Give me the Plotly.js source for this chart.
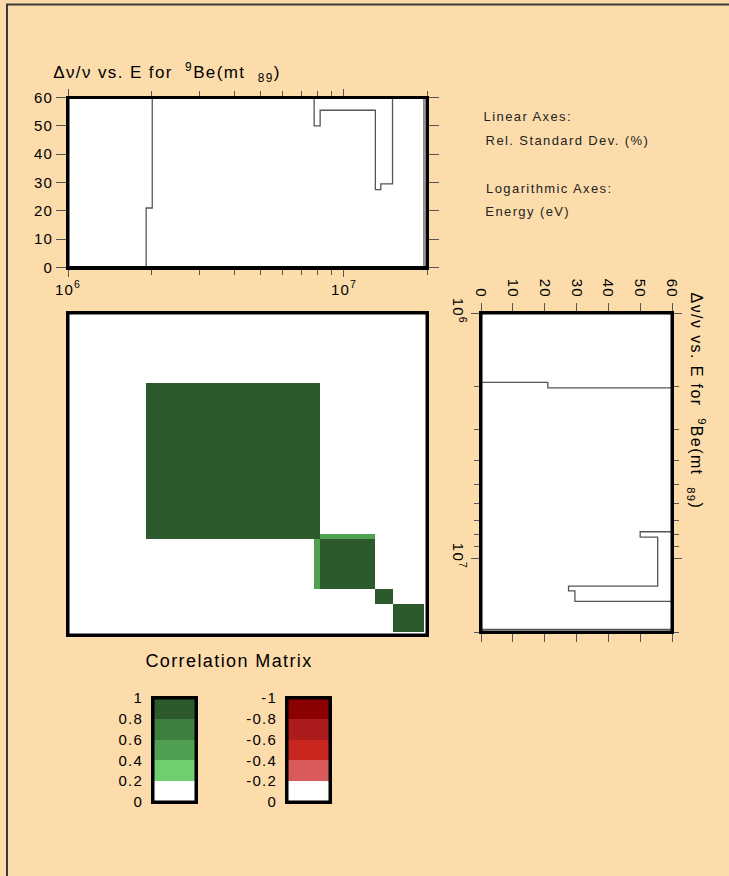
<!DOCTYPE html>
<html>
<head>
<meta charset="utf-8">
<script src="https://cdn.plot.ly/plotly-3.0.1.min.js"></script>
<style>
html,body{margin:0;padding:0;background:#fddcab;}
#chart{width:729px;height:876px;}
#chart svg text{letter-spacing:1.2px;}
#chart svg text.annotation-text{letter-spacing:1.4px;}
</style>
</head>
<body>
<div id="chart"></div>
<script>
// ---- data ----
// energy bin edges (eV)
const energyEdges = [1e6, 1.92e6, 2.02e6, 7.8e6, 8.2e6, 1.3e7, 1.36e7, 1.5e7, 1.95e7, 2e7];
// relative standard deviation (%) per energy bin (100 = off scale, above 60)
const relStdDev = [0, 21, 100, 50, 55.5, 27.5, 29.5, 100, 0];
// correlation matrix per bin pair (row = y bin, col = x bin)
const corr = [
  [0, 0, 0, 0,   0,   0, 0, 0, 0],
  [0, 1, 1, 1,   0,   0, 0, 0, 0],
  [0, 1, 1, 1,   0,   0, 0, 0, 0],
  [0, 1, 1, 1,   0.5, 0, 0, 0, 0],
  [0, 0, 0, 0.5, 1,   0, 0, 0, 0],
  [0, 0, 0, 0,   0,   1, 1, 0, 0],
  [0, 0, 0, 0,   0,   1, 1, 0, 0],
  [0, 0, 0, 0,   0,   0, 0, 1, 0],
  [0, 0, 0, 0,   0,   0, 0, 0, 0]
];
const sdTicks = [0, 10, 20, 30, 40, 50, 60];
const majorE = [1e6, 1e7];
const majorELabels = ['10<sup>6</sup>', '10<sup>7</sup>'];
const minorE = [2e6, 3e6, 4e6, 5e6, 6e6, 7e6, 8e6, 9e6, 2e7];
// colour legend
const legendEdges = [0, 0.2, 0.4, 0.6, 0.8, 1];
const greenBands = [0.1, 0.3, 0.5, 0.7, 0.9];
const greenLabels = ['0', '0.2', '0.4', '0.6', '0.8', '1'];
const redEdges = [0, -0.2, -0.4, -0.6, -0.8, -1];
const redBands = [-0.1, -0.3, -0.5, -0.7, -0.9];
const redLabels = ['0', '-0.2', '-0.4', '-0.6', '-0.8', '-1'];
const bandColors = ['#8b0000', '#ad1c1c', '#c9261f', '#d85a5a', '#ffffff', '#ffffff', '#6fcf6f', '#51a051', '#3e7e3e', '#2d5a2d'];

// ---- layout helpers ----
const W = 729, H = 876;
const px = v => v / W;
const py = v => 1 - v / H;
const FONT = 'Liberation Sans, Arial, Helvetica, sans-serif';

const colorscale = [];
bandColors.forEach((c, i) => { colorscale.push([i / 10, c]); colorscale.push([(i + 1) / 10, c]); });

const stepY = relStdDev.concat([relStdDev[relStdDev.length - 1]]);
const logMax = Math.log10(energyEdges[energyEdges.length - 1]);
const logMin = Math.log10(energyEdges[0]);

const frameAxis = {
  showline: true, linewidth: 2, linecolor: '#000', mirror: 'ticks',
  showgrid: false, zeroline: false, fixedrange: true,
  tickcolor: '#555', tickwidth: 1,
  tickfont: {family: FONT, size: 15, color: '#000'}
};

const traces = [
  {x: energyEdges, y: stepY, type: 'scatter', mode: 'lines', line: {shape: 'hv', color: '#555', width: 1.3},
   xaxis: 'x', yaxis: 'y', hoverinfo: 'skip'},
  {x: energyEdges, y: energyEdges, z: corr, type: 'heatmap', colorscale: colorscale, zmin: -1, zmax: 1,
   showscale: false, xaxis: 'x2', yaxis: 'y2', hoverinfo: 'skip'},
  {x: stepY, y: energyEdges, type: 'scatter', mode: 'lines', line: {shape: 'vh', color: '#555', width: 1.3},
   xaxis: 'x3', yaxis: 'y3', hoverinfo: 'skip'},
  {x: [0, 1], y: legendEdges, z: greenBands.map(v => [v]), type: 'heatmap', colorscale: colorscale, zmin: -1, zmax: 1,
   showscale: false, xaxis: 'x4', yaxis: 'y4', hoverinfo: 'skip'},
  {x: [0, 1], y: redEdges, z: redBands.map(v => [v]), type: 'heatmap', colorscale: colorscale, zmin: -1, zmax: 1,
   showscale: false, xaxis: 'x5', yaxis: 'y5', hoverinfo: 'skip'}
];

const frameShape = (xr, yr) => ({type: 'rect', xref: xr + ' domain', yref: yr + ' domain', x0: 0, x1: 1, y0: 0, y1: 1,
  layer: 'above', line: {color: '#000', width: 3}, fillcolor: 'rgba(0,0,0,0)'});

const note = (text, cx, cy, size, color) => ({xref: 'paper', yref: 'paper', x: px(cx), y: py(cy),
  xanchor: 'center', yanchor: 'middle', showarrow: false, text: text, font: {family: FONT, size: size, color: color}});

const titleText = 'Δν/ν vs. E for  <sup>9</sup>Be(mt  <sub>89</sub>)';
const sideTitle = note(titleText, 697, 400.5, 16, '#000');
sideTitle.textangle = 90;

const layout = {
  width: W, height: H, margin: {l: 0, r: 0, t: 0, b: 0},
  paper_bgcolor: '#fddcab', plot_bgcolor: '#ffffff', showlegend: false,
  font: {family: FONT, color: '#000'},
  // top: standard deviation vs energy
  xaxis: Object.assign({}, frameAxis, {
    domain: [px(68), px(427)], anchor: 'y', type: 'log', range: [logMin, logMax],
    tickvals: majorE, ticktext: majorELabels, ticks: 'outside', ticklen: 7,
    minor: {tickvals: minorE, ticks: 'outside', ticklen: 5, tickcolor: '#555', tickwidth: 1, showgrid: false}
  }),
  yaxis: Object.assign({}, frameAxis, {
    domain: [py(267.5), py(97.5)], anchor: 'x', range: [0, 60], tickvals: sdTicks,
    ticks: 'outside', ticklen: 10
  }),
  // correlation matrix
  xaxis2: {domain: [px(68), px(427)], anchor: 'y2', type: 'log', range: [logMin, logMax],
    showline: true, linewidth: 2, linecolor: '#000', mirror: true, showticklabels: false, ticks: '',
    showgrid: false, zeroline: false, fixedrange: true},
  yaxis2: {domain: [py(635), py(313)], anchor: 'x2', type: 'log', range: [logMax, logMin],
    showline: true, linewidth: 2, linecolor: '#000', mirror: true, showticklabels: false, ticks: '',
    showgrid: false, zeroline: false, fixedrange: true},
  // right: energy vs standard deviation
  xaxis3: Object.assign({}, frameAxis, {
    domain: [px(481), px(672)], anchor: 'y3', side: 'top', range: [0, 60], tickvals: sdTicks,
    ticks: 'outside', ticklen: 8, tickangle: 90
  }),
  yaxis3: Object.assign({}, frameAxis, {
    domain: [py(632), py(313)], anchor: 'x3', type: 'log', range: [logMax, logMin],
    tickvals: majorE, ticktext: majorELabels, ticks: 'outside', ticklen: 8, tickangle: 90,
    minor: {tickvals: minorE, ticks: 'outside', ticklen: 5, tickcolor: '#555', tickwidth: 1, showgrid: false}
  }),
  // colour legends
  xaxis4: {domain: [px(153), px(196)], anchor: 'y4', range: [0, 1], showline: true, linewidth: 2, linecolor: '#000',
    mirror: true, showticklabels: false, ticks: '', showgrid: false, zeroline: false, fixedrange: true},
  yaxis4: {domain: [py(802), py(698)], anchor: 'x4', range: [0, 1], showline: true, linewidth: 2, linecolor: '#000',
    mirror: true, tickvals: legendEdges, ticktext: greenLabels, ticks: 'outside', ticklen: 5, tickcolor: 'rgba(0,0,0,0)',
    tickfont: {family: FONT, size: 15, color: '#000'}, showgrid: false, zeroline: false, fixedrange: true},
  xaxis5: {domain: [px(287), px(330)], anchor: 'y5', range: [0, 1], showline: true, linewidth: 2, linecolor: '#000',
    mirror: true, showticklabels: false, ticks: '', showgrid: false, zeroline: false, fixedrange: true},
  yaxis5: {domain: [py(802), py(698)], anchor: 'x5', range: [0, -1], showline: true, linewidth: 2, linecolor: '#000',
    mirror: true, tickvals: redEdges, ticktext: redLabels, ticks: 'outside', ticklen: 5, tickcolor: 'rgba(0,0,0,0)',
    tickfont: {family: FONT, size: 15, color: '#000'}, showgrid: false, zeroline: false, fixedrange: true},
  annotations: [
    note(titleText, 166.5, 72, 17, '#000'),
    sideTitle,
    note('Linear Axes:', 528, 117, 13, '#222'),
    note('Rel. Standard Dev. (%)', 567.5, 140, 13, '#222'),
    note('Logarithmic Axes:', 549, 188, 13, '#222'),
    note('Energy (eV)', 527.5, 211, 13, '#222'),
    note('Correlation Matrix', 229, 661, 18, '#000')
  ],
  shapes: [
    frameShape('x', 'y'), frameShape('x2', 'y2'), frameShape('x3', 'y3'), frameShape('x4', 'y4'), frameShape('x5', 'y5'),
    {type: 'line', xref: 'paper', yref: 'paper', x0: px(7), x1: px(7), y0: 0, y1: py(4), line: {color: '#3a3a3a', width: 2}},
    {type: 'line', xref: 'paper', yref: 'paper', x0: px(6), x1: 1, y0: py(4.5), y1: py(4.5), line: {color: '#3a3a3a', width: 2}}
  ]
};

Plotly.newPlot('chart', traces, layout, {staticPlot: true, displayModeBar: false});
</script>
</body>
</html>
